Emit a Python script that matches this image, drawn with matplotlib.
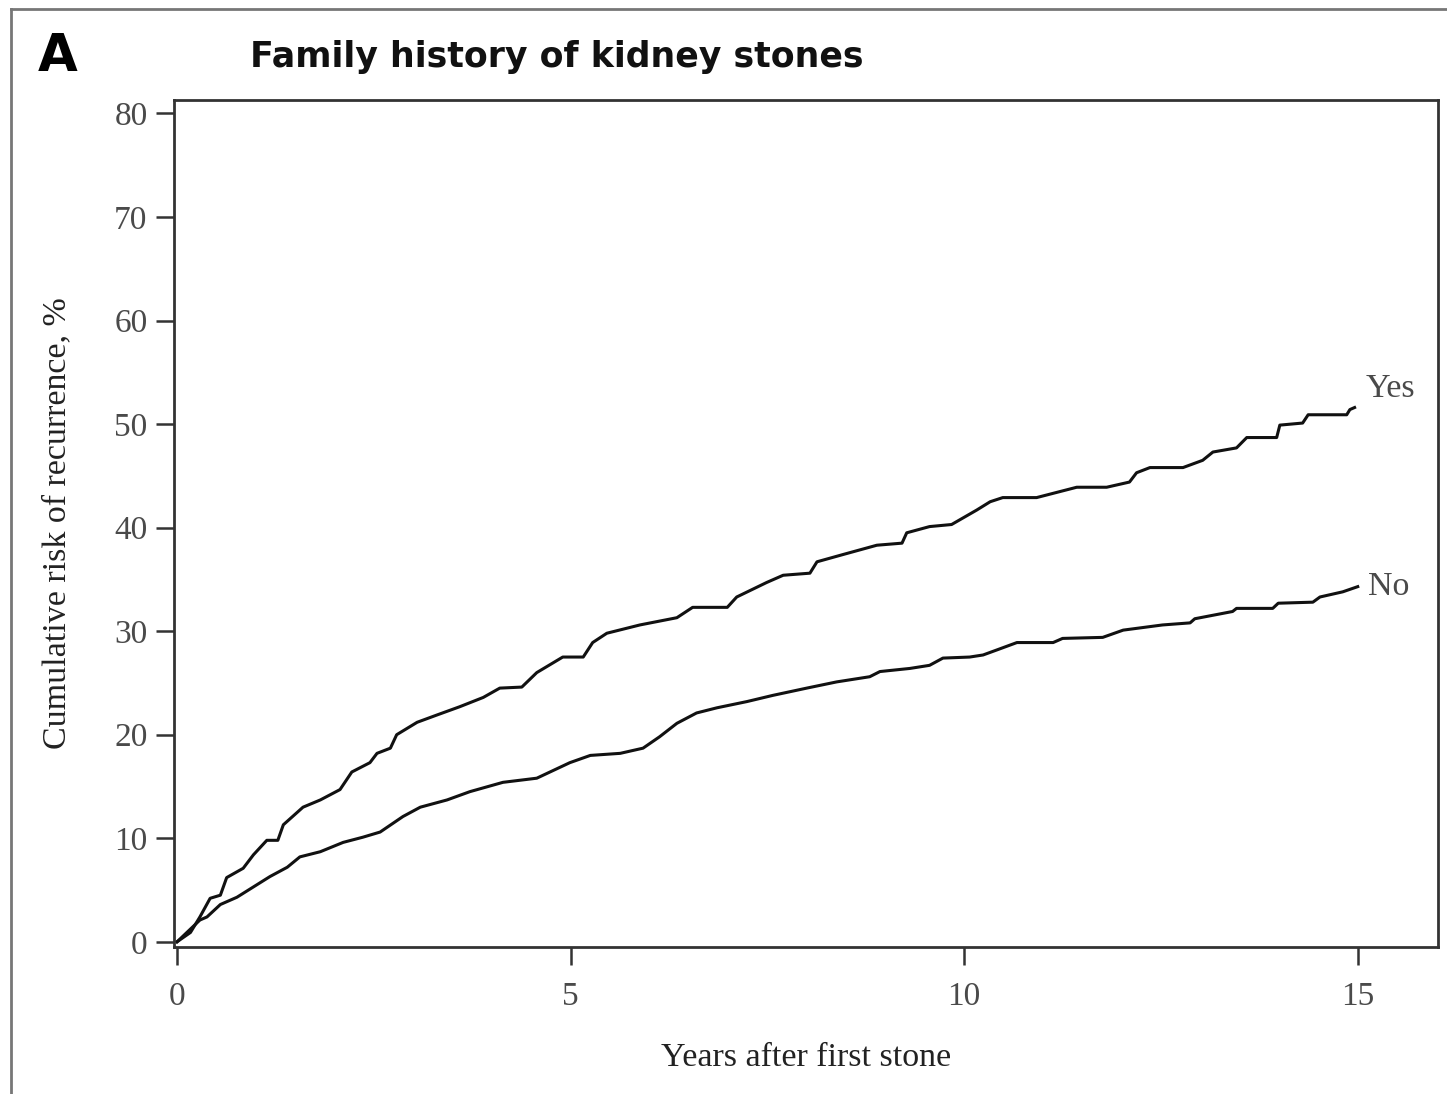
import matplotlib.pyplot as plt
from matplotlib.lines import Line2D

# cumulative recurrence, family history = Yes
yes_t = [0, 0.17, 0.29, 0.42, 0.55, 0.63, 0.84, 0.97, 1.14, 1.28, 1.35, 1.60, 1.82,
         2.07, 2.22, 2.45, 2.54, 2.71, 2.79, 3.05, 3.30, 3.59, 3.89, 4.10, 4.38, 4.57,
         4.90, 5.16, 5.28, 5.46, 5.88, 6.35, 6.55, 6.99, 7.11, 7.49, 7.70, 8.04, 8.13,
         8.46, 8.89, 9.21, 9.27, 9.56, 9.84, 10.16, 10.33, 10.49, 10.92, 11.43, 11.81,
         12.10, 12.19, 12.36, 12.78, 13.03, 13.16, 13.46, 13.59, 13.97, 14.01, 14.30,
         14.37, 14.86, 14.90, 14.96]
yes_v = [0, 0.9, 2.4, 4.2, 4.5, 6.2, 7.1, 8.4, 9.8, 9.8, 11.3, 13.0, 13.7,
         14.7, 16.4, 17.3, 18.2, 18.7, 20.0, 21.2, 21.9, 22.7, 23.6, 24.5, 24.6, 26.0,
         27.5, 27.5, 28.9, 29.8, 30.6, 31.3, 32.3, 32.3, 33.3, 34.7, 35.4, 35.6, 36.7,
         37.4, 38.3, 38.5, 39.5, 40.1, 40.3, 41.7, 42.5, 42.9, 42.9, 43.9, 43.9,
         44.4, 45.3, 45.8, 45.8, 46.5, 47.3, 47.7, 48.7, 48.7, 49.9, 50.1,
         50.9, 50.9, 51.4, 51.6]

# cumulative recurrence, family history = No
no_t = [0, 0.29, 0.38, 0.55, 0.76, 0.97, 1.18, 1.40, 1.56, 1.82, 2.11, 2.36, 2.58,
        2.87, 3.09, 3.43, 3.72, 4.14, 4.57, 4.99, 5.25, 5.63, 5.92, 6.13, 6.35, 6.60,
        6.86, 7.24, 7.57, 8.00, 8.38, 8.80, 8.93, 9.31, 9.56, 9.73, 10.07, 10.24,
        10.42, 10.67, 11.13, 11.25, 11.76, 12.02, 12.52, 12.87, 12.93, 13.41, 13.46,
        13.92, 13.99, 14.43, 14.52, 14.81, 15.0]
no_v = [0, 2.1, 2.4, 3.6, 4.3, 5.3, 6.3, 7.2, 8.2, 8.7, 9.6, 10.1, 10.6,
        12.1, 13.0, 13.7, 14.5, 15.4, 15.8, 17.3, 18.0, 18.2, 18.7, 19.8, 21.1, 22.1,
        22.6, 23.2, 23.8, 24.5, 25.1, 25.6, 26.1, 26.4, 26.7, 27.4, 27.5, 27.7,
        28.2, 28.9, 28.9, 29.3, 29.4, 30.1, 30.6, 30.8, 31.2, 31.9, 32.2,
        32.2, 32.7, 32.8, 33.3, 33.8, 34.3]

xticks = [0, 5, 10, 15]
yticks = [0, 10, 20, 30, 40, 50, 60, 70, 80]

serif = ["Liberation Serif", "DejaVu Serif"]
grey = "#4a4a4a"

fig = plt.figure(figsize=(14.47, 10.94), dpi=100)
ax = fig.add_axes([0.1202, 0.1344, 0.8736, 0.7742])

ax.plot(yes_t, yes_v, color="#111111", lw=2.2)
ax.plot(no_t, no_v, color="#111111", lw=2.2)

ax.text(15.1, 53.4, "Yes", fontsize=24.5, family=serif, color=grey, ha="left", va="center")
ax.text(15.13, 34.3, "No", fontsize=24.5, family=serif, color=grey, ha="left", va="center")

ax.set_xlim(-0.04, 16.02)
ax.set_ylim(-0.5, 81.3)
ax.set_xticks(xticks)
ax.set_yticks(yticks)
ax.tick_params(direction="out", length=13, width=1.8, color="#333333",
               labelsize=24, labelcolor=grey)
ax.tick_params(axis="x", pad=12)
ax.tick_params(axis="y", pad=6)
for lab in ax.get_xticklabels() + ax.get_yticklabels():
    lab.set_family(serif)
for s in ax.spines.values():
    s.set_linewidth(2)
    s.set_color("#333333")

ax.set_xlabel("Years after first stone", fontsize=24.5, family=serif, color="#222222", labelpad=22)
ax.set_ylabel("Cumulative risk of recurrence, %", fontsize=24.5, family=serif, color="#222222", labelpad=30)

fig.text(0.0263, 0.948, "A", fontsize=37, fontweight="bold", ha="left", va="center")
fig.text(0.1728, 0.948, "Family history of kidney stones", fontsize=25, fontweight="bold",
         ha="left", va="center", color="#111111")

# outer panel frame
fig.add_artist(Line2D([0.0073, 0.0073], [0, 0.9915], transform=fig.transFigure,
                      color="#777777", lw=2))
fig.add_artist(Line2D([0.0073, 1.0], [0.9915, 0.9915], transform=fig.transFigure,
                      color="#777777", lw=2))

fig.savefig("out.png", dpi=100)
